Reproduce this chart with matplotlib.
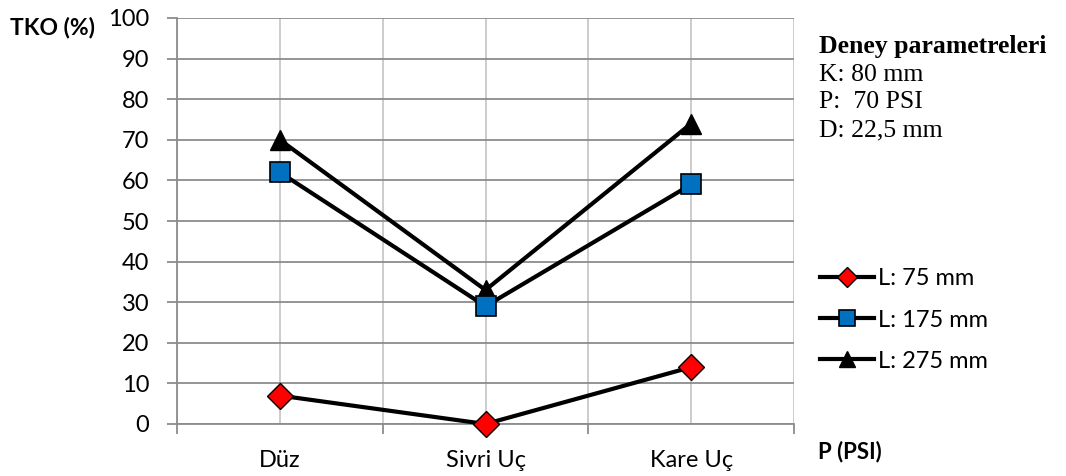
import matplotlib
matplotlib.use('Agg')
import matplotlib.pyplot as plt
import numpy as np

# data
categories = ['Düz', 'Sivri Uç', 'Kare Uç']
l75 = [7, 0, 14]
l175 = [62, 29, 59]
l275 = [70, 33, 74]
series_labels = ['L: 75 mm', 'L: 175 mm', 'L: 275 mm']
params_title = 'Deney parametreleri'
params = ['K: 80 mm', 'P:  70 PSI', 'D: 22,5 mm']

plt.rcParams['font.family'] = ['Lato', 'DejaVu Sans']

W, H = 1066, 476
fig = plt.figure(figsize=(W/100, H/100), dpi=100)
ax = fig.add_axes([177/W, 1 - 424/H, (794-177)/W, (424-18)/H])

x = np.arange(len(categories))
ax.set_xlim(-0.5, 2.5)
ax.set_ylim(0, 100)

# gridlines
for gx in np.arange(-0.5, 2.51, 0.5):
    ax.axvline(gx, color='#c8c8c8', lw=1.3, zorder=0)
ax.set_yticks(np.arange(0, 101, 10))
ax.yaxis.grid(True, color='#8c8c8c', lw=1.3, zorder=0)
ax.set_axisbelow(True)

ax.plot(x, l75, color='black', lw=3, marker='D', ms=13, mfc='#ff0000', mec='black', mew=1,
        label=series_labels[0], clip_on=False, zorder=3)
ax.plot(x, l175, color='black', lw=3, marker='s', ms=14, mfc='#0070c0', mec='black', mew=1.2,
        label=series_labels[1], clip_on=False, zorder=5)
ax.plot(x, l275, color='black', lw=3, marker='^', ms=15, mfc='black', mec='black',
        label=series_labels[2], clip_on=False, zorder=4)

for s in ['top', 'right']:
    ax.spines[s].set_visible(False)
for s in ['left', 'bottom']:
    ax.spines[s].set_color('#8c8c8c')
    ax.spines[s].set_linewidth(1.3)

ax.set_xticks([-0.5, 0.5, 1.5, 2.5])
ax.set_xticklabels([])
ax.set_xticks(x, minor=True)
ax.set_xticklabels(categories, minor=True, fontsize=17)
ax.tick_params(axis='x', which='major', length=7, width=1.3, color='#8c8c8c')
ax.tick_params(axis='x', which='minor', length=0, pad=19)
ax.tick_params(axis='y', length=7, width=1.3, color='#8c8c8c', labelsize=17, pad=13)

fig.text(10/W, 1 - 28/H, 'TKO (%)', fontsize=16.5, fontweight='bold', va='center', ha='left')
fig.text(818/W, 1 - 452/H, 'P (PSI)', fontsize=16, fontweight='bold', va='center', ha='left')

fig.text(819/W, 1 - 47/H, params_title, fontsize=18.5, fontweight='bold',
         family='Liberation Serif', va='center')
for i, p in enumerate(params):
    fig.text(819/W, 1 - (75 + 27.5*i)/H, p, fontsize=18.5, family='Liberation Serif', va='center')

fig.legend(loc='center left', bbox_to_anchor=(820/W, 1 - 320/H), frameon=False,
           fontsize=17, handlelength=2.3, handletextpad=0.15, labelspacing=0.85,
           borderpad=0, borderaxespad=0, markerscale=0.8)

fig.savefig('out.png', dpi=100)
